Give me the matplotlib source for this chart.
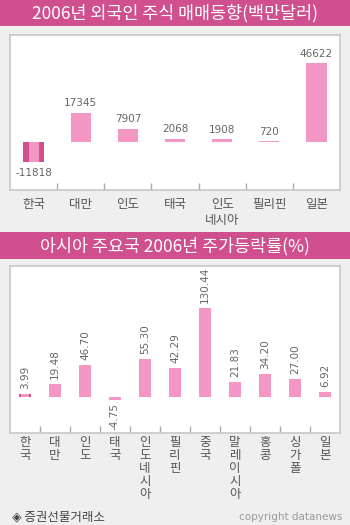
import matplotlib
matplotlib.use('Agg')
import matplotlib.pyplot as plt
import numpy as np
from matplotlib.patches import Rectangle

plt.rcParams['font.family'] = ['Noto Sans CJK KR', 'DejaVu Sans']

# data
title1 = '2006년 외국인 주식 매매동향(백만달러)'
cats1 = ['한국', '대만', '인도', '태국', '인도\n네시아', '필리핀', '일본']
vals1 = [-11818, 17345, 7907, 2068, 1908, 720, 46622]
labels1 = ['-11818', '17345', '7907', '2068', '1908', '720', '46622']

title2 = '아시아 주요국 2006년 주가등락률(%)'
cats2 = ['한국', '대만', '인도', '태국', '인도네시아', '필리핀', '중국',
         '말레이시아', '홍콩', '싱가폴', '일본']
vals2 = [3.99, 19.48, 46.70, -4.75, 55.30, 42.29, 130.44, 21.83, 34.20, 27.00, 6.92]
labels2 = ['3.99', '19.48', '46.70', '-4.75', '55.30', '42.29', '130.44',
           '21.83', '34.20', '27.00', '6.92']

BG = '#efefef'
BAR = '#f497c4'
DARK = '#d2508f'
HEAD = '#d0508f'
GRID = '#c8c8c8'
TXT = '#666666'

W, H = 350, 525
fig = plt.figure(figsize=(W / 100, H / 100), dpi=100, facecolor=BG)


def fx(px):
    return px / W


def fy(py):
    return 1 - py / H


def header(y0, y1, text, size):
    fig.add_artist(Rectangle((0, fy(y1)), 1, (y1 - y0) / H, transform=fig.transFigure,
                             facecolor=HEAD, edgecolor='none'))
    fig.text(0.5, fy((y0 + y1) / 2 + 0.5), text, color='white', fontsize=size,
             ha='center', va='center')


def panel(y0, y1):
    ax = fig.add_axes([fx(10), fy(y1), fx(330), (y1 - y0) / H], facecolor='white')
    for s in ax.spines.values():
        s.set_color(GRID)
        s.set_linewidth(1.2)
    ax.set_yticks([])
    ax.tick_params(axis='x', which='both', bottom=True, labelbottom=False,
                   direction='in', length=5, color='#aaaaaa', width=1)
    return ax


# ---- chart 1 ----
header(0, 26, title1, 12.5)
ax1 = panel(35, 190)
x1 = np.arange(len(cats1))
bw1 = 0.43
ax1.bar(x1, vals1, bw1, color=BAR, zorder=2)
# korea bar with dark edges
ax1.bar(x1[0], vals1[0], bw1, color=DARK, zorder=2)
ax1.bar(x1[0], vals1[0], bw1 * 0.5, color=BAR, zorder=3)
ax1.set_xlim(-0.5, len(cats1) - 0.5)
ax1.set_ylim(-28300, 63100)
ax1.set_xticks(x1[:-1] + 0.5)
for xi, v, lab in zip(x1, vals1, labels1):
    if v >= 0:
        ax1.annotate(lab, (xi, v), xytext=(0, 3), textcoords='offset points',
                     ha='center', va='bottom', fontsize=7.5, color=TXT,
                     family='DejaVu Sans')
    else:
        ax1.annotate(lab, (xi, v), xytext=(0, -4), textcoords='offset points',
                     ha='center', va='top', fontsize=7.5, color=TXT,
                     family='DejaVu Sans')
for xi, c in zip(x1, cats1):
    ax1.text(xi, -0.05, c, transform=ax1.get_xaxis_transform(), ha='center',
             va='top', fontsize=9, color='#555555', linespacing=1.3)

# ---- chart 2 ----
header(232, 259, title2, 12.5)
ax2 = panel(266, 433)
x2 = np.arange(len(cats2))
bw2 = 0.43
ax2.bar(x2, vals2, bw2, color=BAR, zorder=2)
ax2.bar(x2[0], vals2[0], bw2, color=DARK, zorder=2)
ax2.bar(x2[0], vals2[0], bw2 * 0.55, color=BAR, zorder=3)
ax2.set_xlim(-0.5, len(cats2) - 0.5)
ax2.set_ylim(-52.8, 192)
ax2.set_xticks(x2[:-1] + 0.5)
for xi, v, lab in zip(x2, vals2, labels2):
    if v >= 0:
        ax2.annotate(lab, (xi, v), xytext=(0, 3.5), textcoords='offset points',
                     ha='center', va='bottom', rotation=90, fontsize=7.5,
                     color=TXT, family='DejaVu Sans')
    else:
        ax2.annotate(lab, (xi, v), xytext=(0, -2), textcoords='offset points',
                     ha='center', va='top', rotation=90, fontsize=7.5,
                     color=TXT, family='DejaVu Sans')
for xi, c in zip(x2, cats2):
    ax2.text(xi, -0.02, '\n'.join(c), transform=ax2.get_xaxis_transform(),
             ha='center', va='top', fontsize=9, color='#555555', linespacing=1.0)

# footer
fig.text(fx(12), fy(517), '◈ 증권선물거래소', fontsize=9, color='#444444',
         ha='left', va='center')
fig.text(fx(342), fy(517), 'copyright datanews', fontsize=7.5, color='#999999',
         ha='right', va='center', family='DejaVu Sans')

fig.savefig('out.png', dpi=100, facecolor=BG)
